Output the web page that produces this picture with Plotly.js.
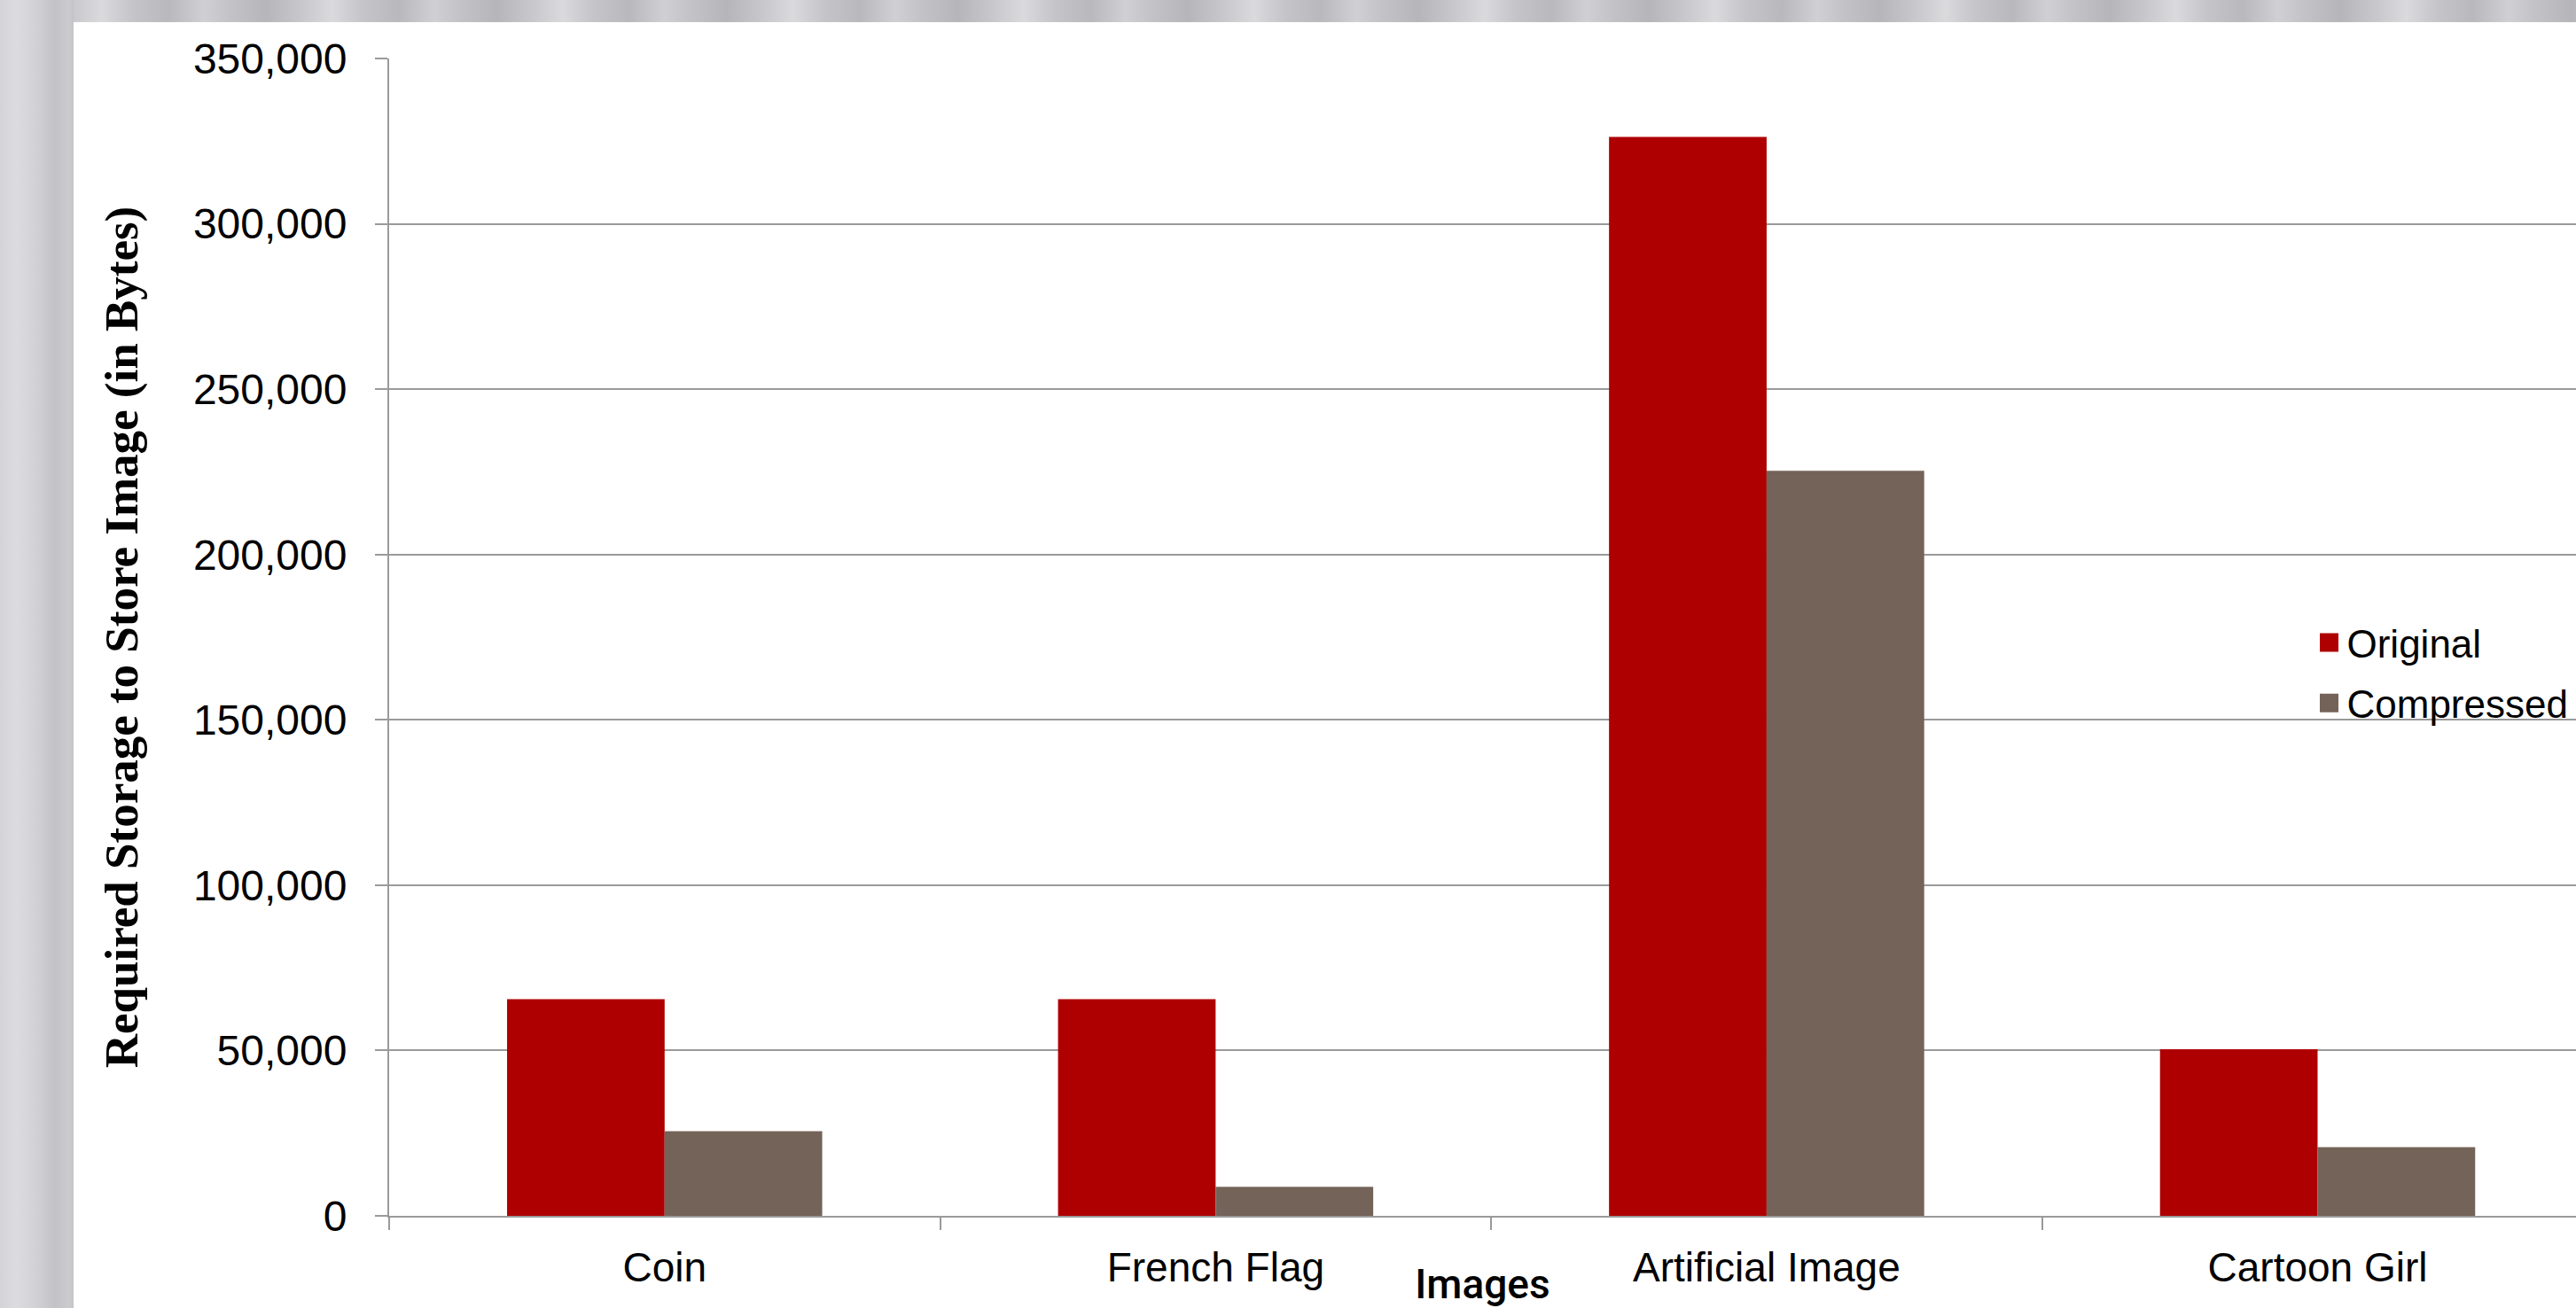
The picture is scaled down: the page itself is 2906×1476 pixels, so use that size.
<!DOCTYPE html>
<html>
<head>
<meta charset="utf-8">
<script src="https://cdn.plot.ly/plotly-3.0.1.min.js"></script>
<style>
  html, body { margin: 0; padding: 0; width: 2906px; height: 1476px; overflow: hidden; background: #d4d4d8; }
  #topstrip { position: absolute; left: 0; top: 0; width: 2906px; height: 25px;
    background: repeating-linear-gradient(90deg, #c2c2c7 0px, #b5b5ba 40px, #c8c8cc 80px, #dadadd 115px, #c4c4c9 150px, #b8b8bd 190px, #d0d0d4 230px, #c2c2c7 260px); }
  #leftstrip { position: absolute; left: 0; top: 0; width: 83px; height: 1476px;
    background: linear-gradient(90deg, #d4d4d8 0px, #dcdcdf 18px, #d2d2d6 40px, #c3c3c7 62px, #cbcbce 78px, #c4c4c8 83px); }
  #chart { position: absolute; left: 83px; top: 25px; width: 2823px; height: 1451px; background: #ffffff; }
</style>
</head>
<body>
<div id="topstrip"></div>
<div id="leftstrip"></div>
<div id="chart"></div>
<script>
const categories = ["Coin", "French Flag", "Artificial Image", "Cartoon Girl"];
const originalValues = [65500, 65500, 326300, 50400];
const compressedValues = [25600, 8800, 225300, 20800];
const seriesNames = ["Original", "Compressed"];
const seriesColors = ["#ae0000", "#746358"];
const yTickValues = [0, 50000, 100000, 150000, 200000, 250000, 300000, 350000];

const tickFont = { family: "Liberation Sans, Arial, sans-serif", size: 46, color: "#000000" };

const traces = [
  { type: "bar", name: seriesNames[0], x: categories, y: originalValues,
    marker: { color: seriesColors[0], line: { width: 0 } }, showlegend: false, hoverinfo: "x+y" },
  { type: "bar", name: seriesNames[1], x: categories, y: compressedValues,
    marker: { color: seriesColors[1], line: { width: 0 } }, showlegend: false, hoverinfo: "x+y" },
  // legend proxies (square keys like the reference)
  { type: "scatter", mode: "markers", name: seriesNames[0], x: [null], y: [null],
    marker: { symbol: "square", size: 16, color: seriesColors[0], line: { width: 5, color: seriesColors[0] } },
    showlegend: true, legendgroup: "a" },
  { type: "scatter", mode: "markers", name: seriesNames[1], x: [null], y: [null],
    marker: { symbol: "square", size: 16, color: seriesColors[1], line: { width: 5, color: seriesColors[1] } },
    showlegend: true, legendgroup: "b" }
];

const layout = {
  width: 2823,
  height: 1451,
  margin: { l: 356, r: 0, t: 41, b: 104, pad: 0 },
  paper_bgcolor: "#ffffff",
  plot_bgcolor: "#ffffff",
  barmode: "group",
  bargap: 0.428,
  bargroupgap: 0,
  showlegend: true,
  legend: {
    x: 0.879, xanchor: "left", y: 0.469, yanchor: "middle",
    font: { family: "Liberation Sans, Arial, sans-serif", size: 44, color: "#000000" },
    bgcolor: "rgba(255,255,255,0)",
    tracegroupgap: 8,
    traceorder: "grouped",
    itemwidth: 30
  },
  xaxis: {
    type: "category",
    range: [-0.5, 3.469],
    showgrid: false,
    showline: true, linecolor: "#9a9a9a", linewidth: 2,
    ticks: "outside", tickson: "boundaries", ticklen: 14, tickwidth: 2, tickcolor: "#9a9a9a",
    tickfont: tickFont,
    ticklabelstandoff: 17,
    title: { text: "Images", standoff: 0,
      font: { family: "Roboto, Liberation Sans, Arial, sans-serif", size: 46, color: "#000000", weight: 500 } },
    fixedrange: true
  },
  yaxis: {
    range: [0, 350000],
    tickvals: yTickValues,
    tickformat: ",d",
    showgrid: true, gridcolor: "#9a9a9a", gridwidth: 2,
    zeroline: false,
    showline: true, linecolor: "#9a9a9a", linewidth: 2,
    ticks: "outside", ticklen: 14, tickwidth: 2, tickcolor: "#9a9a9a",
    tickfont: { family: "Liberation Sans, Arial, sans-serif", size: 48, color: "#000000" },
    ticklabelstandoff: 22,
    title: { text: "Required Storage to Store Image (in Bytes)", standoff: 45,
      font: { family: "Liberation Serif, Times New Roman, serif", size: 53, color: "#000000", weight: "bold" } },
    fixedrange: true
  }
};

Plotly.newPlot("chart", traces, layout, { displayModeBar: false, staticPlot: true });
</script>
</body>
</html>
